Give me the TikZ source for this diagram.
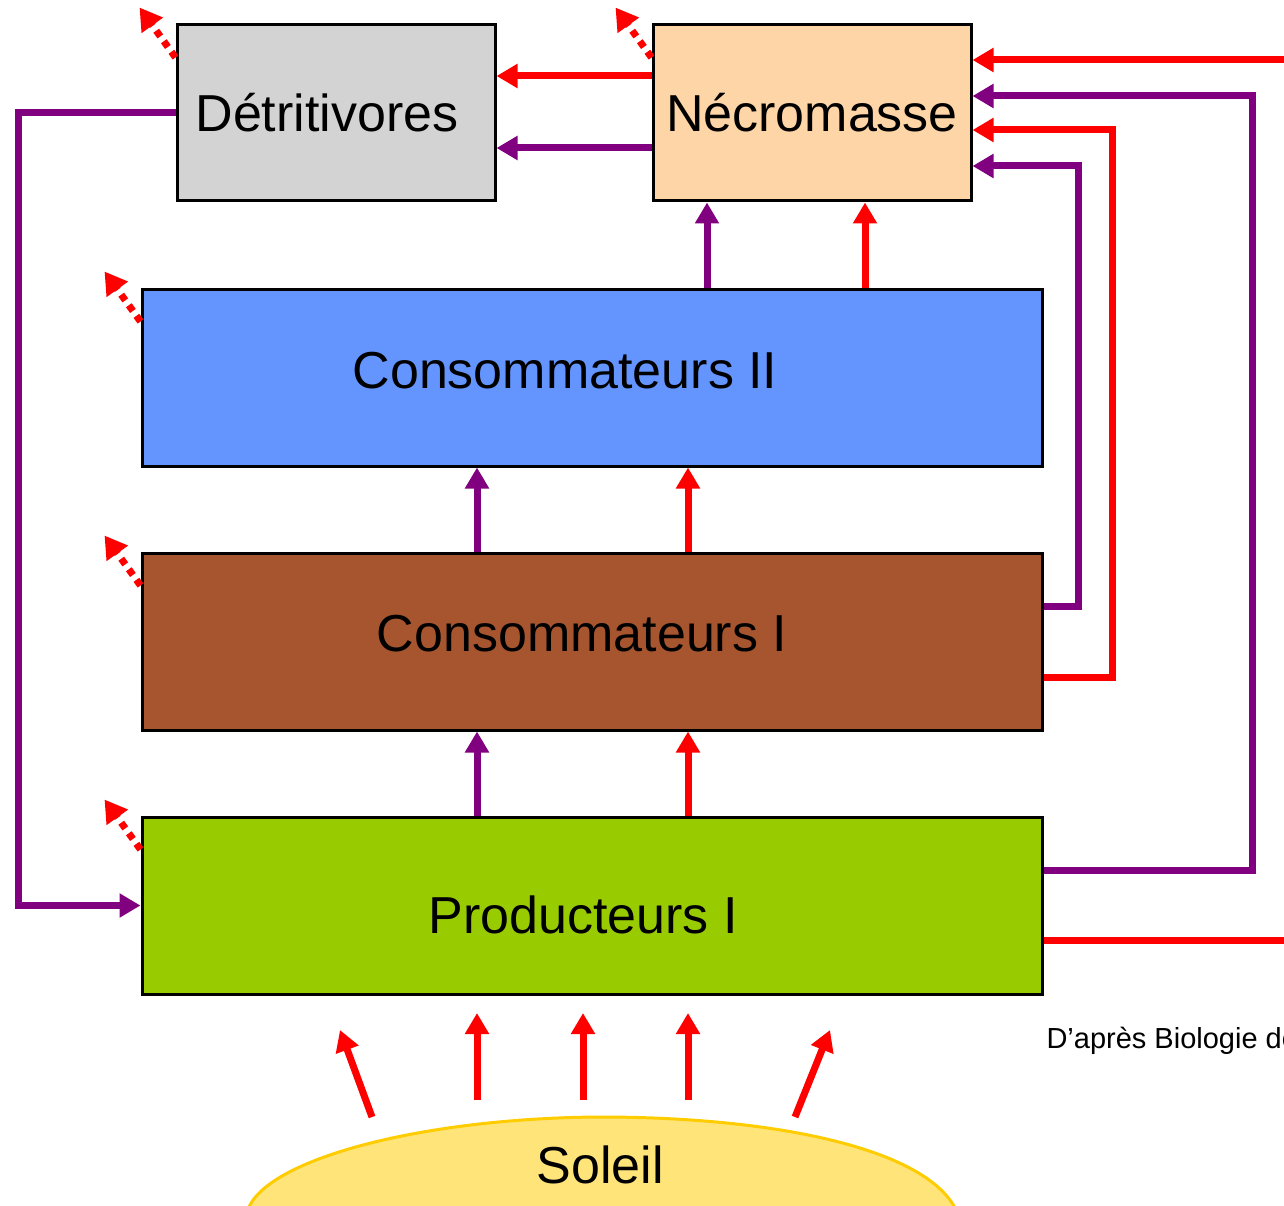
\documentclass[tikz,border=0pt]{standalone}
\usepackage{fontspec}
\setmainfont{Liberation Sans}
\usepackage{tikz}
\usetikzlibrary{arrows.meta, positioning, calc}

\definecolor{detrgray}{HTML}{D3D3D3}
\definecolor{necropeach}{HTML}{FDD5A6}
\definecolor{consblue}{HTML}{6495FF}
\definecolor{consbrown}{HTML}{A6552F}
\definecolor{prodgreen}{HTML}{99CC00}
\definecolor{sunfill}{HTML}{FFE47A}
\definecolor{sunline}{HTML}{FFCC00}
\definecolor{flowpurple}{HTML}{800080}

\begin{document}
\begin{tikzpicture}[
    x=1pt, y=-1pt,
    boxtext/.style={font=\fontsize{52}{60}\selectfont},
    box/.style={rectangle, draw, line width=3pt, minimum width=318pt, minimum height=176pt, inner sep=0pt, boxtext},
    widebox/.style={box, minimum width=900pt, minimum height=177pt},
    flow/.style={line width=7pt, -{Triangle[length=21pt, width=23pt]}},
    redflow/.style={flow, draw=red},
    purpleflow/.style={flow, draw=flowpurple},
    loss/.style={redflow, dash pattern=on 7pt off 6pt, -{Triangle[length=22pt, width=25pt]}}
]
\useasboundingbox (0,0) rectangle (1284,1206);
\clip (0,0) rectangle (1284,1206);

% Compartiments
\node[box, fill=detrgray, label={[boxtext, xshift=-9pt]center:Détritivores}] (detr) at (336,113) {};
\node[box, fill=necropeach] (necro) at (812,113) {Nécromasse};

\node[widebox, fill=consblue, label={[boxtext, xshift=-27pt, yshift=7pt]center:Consommateurs II}] (cons2) at (592,377.5) {};
\node[widebox, fill=consbrown, below=84pt of cons2, label={[boxtext, xshift=-10pt, yshift=8pt]center:Consommateurs I}] (cons1) {};
\node[widebox, fill=prodgreen, below=84pt of cons1, label={[boxtext, xshift=-9pt, yshift=-9pt]center:Producteurs I}] (prod) {};

% Soleil
\filldraw[fill=sunfill, draw=sunline, line width=3pt] (247,1212) .. controls (262,1160) and (420,1118) .. (600,1117)
    .. controls (780,1117) and (930,1150) .. (957,1212) -- cycle;
\node[boxtext] (soleil) at (600,1165) {Soleil};

% Rayons
\foreach \bx/\by/\tx/\ty in {372/1117/340/1030, 477/1100/477/1013, 583/1100/583/1013, 688/1100/688/1013, 795/1117/830/1030}
  \draw[redflow] (\bx,\by) -- (\tx,\ty);

% Necromasse vers detritivores
\draw[redflow] ([yshift=37pt]necro.west) -- ([yshift=37pt]detr.east);
\draw[purpleflow] ([yshift=-35pt]necro.west) -- ([yshift=-35pt]detr.east);

% Flux entre niveaux
\draw[purpleflow] ([xshift=-105pt]necro.south |- cons2.north) -- ([xshift=-105pt]necro.south);
\draw[redflow] ([xshift=53pt]necro.south |- cons2.north) -- ([xshift=53pt]necro.south);
\draw[purpleflow] ([xshift=-115pt]cons1.north) -- ([xshift=-115pt]cons2.south);
\draw[redflow] ([xshift=96pt]cons1.north) -- ([xshift=96pt]cons2.south);
\draw[purpleflow] ([xshift=-115pt]prod.north) -- ([xshift=-115pt]cons1.south);
\draw[redflow] ([xshift=96pt]prod.north) -- ([xshift=96pt]cons1.south);

% Retours vers la necromasse
\draw[purpleflow] ([yshift=35.5pt]cons1.east) -- ++(35,0) |- ([yshift=-53pt]necro.east);
\draw[redflow] ([yshift=-35.5pt]cons1.east) -- ++(69,0) |- ([yshift=-17pt]necro.east);
\draw[purpleflow] ([yshift=35pt]prod.east) -- ++(209,0) |- ([yshift=17pt]necro.east);
\draw[redflow] ([yshift=-35pt]prod.east) -- ++(270,0) |- ([yshift=53pt]necro.east);

% Detritivores vers producteurs
\draw[purpleflow] (detr.west) -- ++(-157,0) |- (prod.west);

% Pertes
\foreach \nm in {detr, necro, cons2, cons1, prod}
  \draw[loss] ([yshift=-34pt]\nm.north west) -- ++(-36,-50);

% Source
\node[font=\fontsize{29}{32}\selectfont, anchor=west] (source) at (1043,1041) {D’après Biologie de};

\end{tikzpicture}
\end{document}
